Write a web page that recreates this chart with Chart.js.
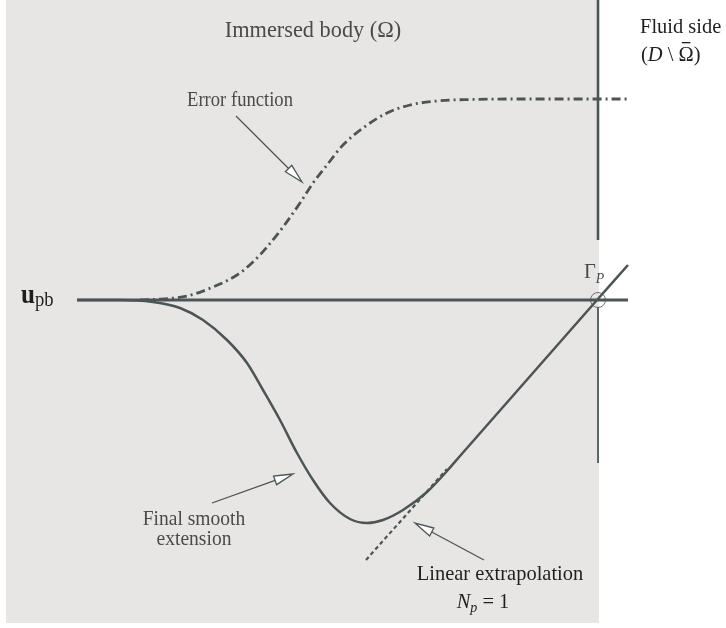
<!DOCTYPE html>
<html>
<head>
<meta charset="utf-8">
<script src="https://cdn.jsdelivr.net/npm/chart.js@4"></script>
<style>
html, body { margin: 0; padding: 0; background: #fff; }
canvas { display: block; }
</style>
</head>
<body>
<canvas id="sketch" width="726" height="628"></canvas>
<script>
// Data (picture units: x to the right, y downwards)
const errX = [140, 153, 187, 213, 237, 253, 267, 283, 300, 313, 327, 343, 363, 387, 410, 437, 470, 520, 628];
const errY = [300, 299.5, 296, 287, 275, 262, 247, 227, 203, 183, 165, 145, 128, 113, 105, 101, 99.5, 99, 99];

const smoothX = [77, 120, 153, 180, 203, 227, 247, 263, 280, 297, 313, 330, 350, 367, 383, 403, 427, 447, 460, 597, 628];
const smoothY = [300, 300, 302, 308, 320, 340, 363, 390, 420, 453, 480, 503, 519, 523, 520, 510, 492, 471, 456, 300, 265];

const linX = [366, 447];
const linY = [560, 469];

const upbX = [77, 628];
const upbY = [300, 300];

const wallTopX = [598, 598];
const wallTopY = [0, 240];
const wallLowX = [598, 598];
const wallLowY = [307, 463];

const gammaX = [598];
const gammaY = [300];

// arrows: [fromX, fromY, tipX, tipY]
const arrows = [
    [236, 116, 302, 182],
    [212, 503, 293, 474],
    [484, 560, 415, 523]
];

// Styles
const INK = '#4c5456';
const TEXT = '#4a4a4a';
const DARK = '#1f1f1f';
const SHADE = '#e7e6e4';
const SERIF = '"Liberation Serif", "DejaVu Serif", serif';

function pts (xs, ys) {
    return xs.map((x, i) => ({ x: x, y: ys[i] }));
}

function line (label, xs, ys, extra) {
    return Object.assign({
        label: label,
        data: pts(xs, ys),
        showLine: true,
        pointRadius: 0,
        borderColor: INK,
        borderWidth: 2.5,
        fill: false
    }, extra || {});
}

// Background shading of the immersed body
const shadePlugin = {
    id: 'shade',
    beforeDatasetsDraw (chart) {
        const { ctx, scales: { x, y } } = chart;
        ctx.save();
        ctx.fillStyle = SHADE;
        const x0 = x.getPixelForValue(6), x1 = x.getPixelForValue(599);
        const y0 = y.getPixelForValue(0), y1 = y.getPixelForValue(623);
        ctx.fillRect(x0, y0, x1 - x0, y1 - y0);
        ctx.restore();
    }
};

// Text runs, slightly condensed like the original typesetting
function drawRuns (ctx, runs, px, py, align) {
    const squeeze = 0.93;
    let total = 0;
    runs.forEach(r => { ctx.font = r.font; total += ctx.measureText(r.t).width; });
    let start = align === 'center' ? -total / 2 : 0;
    ctx.save();
    ctx.translate(px, py);
    ctx.scale(squeeze, 1);
    let cx = start;
    runs.forEach(r => {
        ctx.font = r.font;
        ctx.fillStyle = r.color || TEXT;
        const w = ctx.measureText(r.t).width;
        ctx.fillText(r.t, cx, r.dy || 0);
        if (r.bar) { // overbar (closure sign)
            ctx.fillRect(cx + w * 0.22, -19, w * 0.56, 1.3);
        }
        cx += w;
    });
    ctx.restore();
}

const labels = [
    { x: 313, y: 37, align: 'center', runs: [{ t: 'Immersed body (Ω)', font: '24px ' + SERIF }] },
    { x: 640, y: 33, align: 'left', runs: [{ t: 'Fluid side', font: '22px ' + SERIF, color: DARK }] },
    { x: 641, y: 61, align: 'left', runs: [
        { t: '(', font: '22px ' + SERIF, color: DARK },
        { t: 'D', font: 'italic 22px ' + SERIF, color: DARK },
        { t: ' \\ ', font: '22px ' + SERIF, color: DARK },
        { t: 'Ω', font: '22px ' + SERIF, color: DARK, bar: true },
        { t: ')', font: '22px ' + SERIF, color: DARK }
    ] },
    { x: 240, y: 106, align: 'center', runs: [{ t: 'Error function', font: '20px ' + SERIF }] },
    { x: 194, y: 525, align: 'center', runs: [{ t: 'Final smooth', font: '21px ' + SERIF }] },
    { x: 194, y: 545, align: 'center', runs: [{ t: 'extension', font: '21px ' + SERIF }] },
    { x: 500, y: 580, align: 'center', runs: [{ t: 'Linear extrapolation', font: '22px ' + SERIF, color: DARK }] },
    { x: 483, y: 608, align: 'center', runs: [
        { t: 'N', font: 'italic 22px ' + SERIF, color: DARK },
        { t: 'p', font: 'italic 15px ' + SERIF, color: DARK, dy: 4 },
        { t: ' = 1', font: '22px ' + SERIF, color: DARK }
    ] },
    { x: 21, y: 303, align: 'left', runs: [
        { t: 'u', font: 'bold 27px ' + SERIF, color: DARK },
        { t: 'pb', font: '20px ' + SERIF, color: DARK, dy: 3 }
    ] },
    { x: 584, y: 278, align: 'left', runs: [
        { t: 'Γ', font: '22px ' + SERIF },
        { t: 'P', font: 'italic 15px ' + SERIF, dy: 5 }
    ] }
];

const notePlugin = {
    id: 'notes',
    afterDatasetsDraw (chart) {
        const { ctx, scales: { x, y } } = chart;
        // arrows with open heads
        arrows.forEach(a => {
            const x0 = x.getPixelForValue(a[0]), y0 = y.getPixelForValue(a[1]);
            const x1 = x.getPixelForValue(a[2]), y1 = y.getPixelForValue(a[3]);
            const ang = Math.atan2(y1 - y0, x1 - x0);
            const len = 19, half = 4.5;
            const bx = x1 - len * Math.cos(ang), by = y1 - len * Math.sin(ang);
            ctx.save();
            ctx.strokeStyle = INK;
            ctx.lineWidth = 1.3;
            ctx.beginPath();
            ctx.moveTo(x0, y0);
            ctx.lineTo(bx, by);
            ctx.stroke();
            ctx.beginPath();
            ctx.moveTo(x1, y1);
            ctx.lineTo(bx + half * Math.sin(ang), by - half * Math.cos(ang));
            ctx.lineTo(bx - half * Math.sin(ang), by + half * Math.cos(ang));
            ctx.closePath();
            ctx.fillStyle = '#ffffff';
            ctx.fill();
            ctx.stroke();
            ctx.restore();
        });
        // labels
        ctx.save();
        ctx.textBaseline = 'alphabetic';
        labels.forEach(l => drawRuns(ctx, l.runs, x.getPixelForValue(l.x), y.getPixelForValue(l.y), l.align));
        ctx.restore();
    }
};

const chart = new Chart(document.getElementById('sketch').getContext('2d'), {
    type: 'scatter',
    data: {
        datasets: [
            line('Error function', errX, errY, { borderDash: [9, 4, 2, 4], borderWidth: 2.8, cubicInterpolationMode: 'monotone' }),
            line('Linear extrapolation', linX, linY, { borderDash: [4, 3], borderWidth: 2.2 }),
            line('u_pb', upbX, upbY, { borderWidth: 3 }),
            line('Final smooth extension', smoothX, smoothY, { cubicInterpolationMode: 'monotone' }),
            line('Wall', wallTopX, wallTopY, { borderWidth: 2.6 }),
            line('Wall (lower)', wallLowX, wallLowY, { borderWidth: 1 }),
            {
                label: 'Gamma_P',
                data: pts(gammaX, gammaY),
                showLine: false,
                pointRadius: 7.5,
                pointBorderWidth: 1,
                pointBorderColor: '#707070',
                pointBackgroundColor: 'rgba(0,0,0,0)'
            }
        ]
    },
    options: {
        responsive: false,
        animation: false,
        layout: { padding: 0, autoPadding: false },
        plugins: { legend: { display: false }, tooltip: { enabled: false } },
        scales: {
            x: { type: 'linear', min: 0, max: 726, display: false },
            y: { type: 'linear', min: 0, max: 628, reverse: true, display: false }
        }
    },
    plugins: [shadePlugin, notePlugin]
});
</script>
</body>
</html>
